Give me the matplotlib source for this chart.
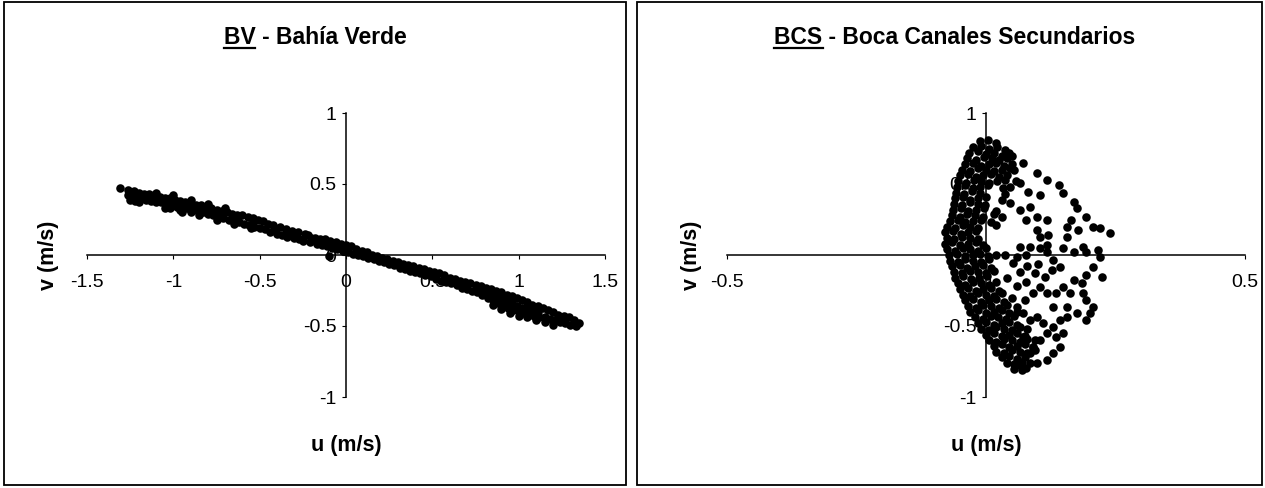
import numpy as np
import matplotlib
matplotlib.use('Agg')
import matplotlib.pyplot as plt
from matplotlib.patches import Rectangle
from matplotlib.lines import Line2D
from matplotlib.ticker import FuncFormatter

plt.rcParams['font.family'] = ['Liberation Sans', 'DejaVu Sans']

# BV - Bahia Verde: (u, v)
bv_pts = [
    (-1.31, 0.47),
    (-1.26, 0.46), (-1.26, 0.42), (-1.25, 0.39), (-1.23, 0.45), (-1.23, 0.41), (-1.22, 0.38),
    (-1.20, 0.44), (-1.19, 0.40), (-1.20, 0.37), (-1.17, 0.43), (-1.16, 0.39),
    (-1.14, 0.43), (-1.13, 0.38), (-1.14, 0.40), (-1.11, 0.42), (-1.10, 0.37), (-1.10, 0.44),
    (-1.08, 0.41), (-1.07, 0.37), (-1.08, 0.39), (-1.05, 0.40), (-1.04, 0.35), (-1.05, 0.33),
    (-1.02, 0.40), (-1.01, 0.36), (-1.02, 0.33), (-0.99, 0.39), (-0.98, 0.34), (-1.00, 0.42),
    (-0.96, 0.38), (-0.95, 0.35), (-0.96, 0.32), (-0.93, 0.37), (-0.92, 0.33), (-0.95, 0.30),
    (-0.90, 0.36), (-0.89, 0.32), (-0.90, 0.30), (-0.87, 0.35), (-0.86, 0.31), (-0.90, 0.39),
    (-0.84, 0.35), (-0.83, 0.30), (-0.81, 0.34), (-0.80, 0.29), (-0.81, 0.31), (-0.85, 0.28),
    (-0.78, 0.33), (-0.77, 0.28), (-0.75, 0.32), (-0.74, 0.27), (-0.80, 0.36), (-0.75, 0.25),
    (-0.72, 0.31), (-0.71, 0.26), (-0.72, 0.28), (-0.69, 0.30), (-0.68, 0.25), (-0.70, 0.33),
    (-0.66, 0.29), (-0.65, 0.24), (-0.63, 0.28), (-0.62, 0.23), (-0.63, 0.25), (-0.65, 0.22),
    (-0.60, 0.28), (-0.59, 0.22), (-0.57, 0.27), (-0.56, 0.21), (-0.55, 0.19),
    (-0.54, 0.26), (-0.53, 0.20), (-0.54, 0.23), (-0.51, 0.25), (-0.50, 0.19),
    (-0.48, 0.24), (-0.47, 0.18), (-0.45, 0.22), (-0.44, 0.16),
    (-0.42, 0.21), (-0.41, 0.17), (-0.40, 0.15), (-0.38, 0.20), (-0.37, 0.14),
    (-0.35, 0.18), (-0.34, 0.13), (-0.33, 0.16), (-0.31, 0.17), (-0.30, 0.12),
    (-0.28, 0.16), (-0.27, 0.11), (-0.24, 0.15), (-0.25, 0.10),
    (-0.22, 0.14), (-0.21, 0.09), (-0.20, 0.12), (-0.18, 0.12), (-0.17, 0.08),
    (-0.15, 0.11), (-0.14, 0.07), (-0.12, 0.11), (-0.11, 0.06), (-0.10, -0.01),
    (-0.09, 0.10), (-0.08, 0.05), (-0.06, 0.09), (-0.05, 0.04),
    (-0.03, 0.08), (-0.02, 0.03), (-0.03, 0.05), (0.00, 0.07), (0.01, 0.02), (0.00, 0.04),
    (0.03, 0.06), (0.04, 0.01), (0.06, 0.04), (0.07, 0.00), (0.09, 0.03), (0.10, -0.01),
    (0.12, 0.02), (0.13, -0.02), (0.15, 0.00), (0.16, -0.03), (0.18, -0.01), (0.19, -0.04),
    (0.21, -0.02), (0.22, -0.05), (0.24, -0.03), (0.25, -0.06), (0.27, -0.04), (0.28, -0.07),
    (0.30, -0.05), (0.31, -0.09), (0.33, -0.06), (0.34, -0.10), (0.36, -0.07), (0.37, -0.11),
    (0.39, -0.08), (0.40, -0.12), (0.42, -0.09), (0.43, -0.13), (0.45, -0.10), (0.46, -0.14),
    (0.48, -0.11), (0.49, -0.15), (0.51, -0.12), (0.52, -0.17), (0.54, -0.13), (0.55, -0.18),
    (0.57, -0.14), (0.58, -0.19), (0.60, -0.16), (0.61, -0.20), (0.63, -0.17), (0.64, -0.21),
    (0.66, -0.18), (0.67, -0.23), (0.69, -0.19), (0.70, -0.24), (0.69, -0.22),
    (0.72, -0.20), (0.73, -0.25), (0.75, -0.21), (0.76, -0.26), (0.75, -0.24),
    (0.78, -0.22), (0.79, -0.28), (0.78, -0.25), (0.81, -0.23), (0.82, -0.30), (0.81, -0.27),
    (0.84, -0.24), (0.85, -0.32), (0.84, -0.28), (0.87, -0.25), (0.88, -0.34), (0.87, -0.30),
    (0.85, -0.35), (0.90, -0.38), (0.95, -0.41),
    (0.90, -0.26), (0.91, -0.35), (0.90, -0.31), (0.93, -0.28), (0.94, -0.37), (0.93, -0.33),
    (0.96, -0.29), (0.97, -0.39), (0.96, -0.34), (0.99, -0.30), (1.00, -0.40), (0.99, -0.36),
    (1.00, -0.43), (1.05, -0.44), (1.10, -0.46), (1.15, -0.47), (1.20, -0.49),
    (1.02, -0.32), (1.03, -0.41), (1.02, -0.37), (1.05, -0.33), (1.06, -0.42), (1.05, -0.38),
    (1.08, -0.35), (1.09, -0.43), (1.08, -0.39), (1.11, -0.36), (1.12, -0.44), (1.11, -0.40),
    (1.14, -0.37), (1.15, -0.44), (1.17, -0.39), (1.18, -0.45), (1.20, -0.40), (1.21, -0.46),
    (1.23, -0.42), (1.24, -0.47), (1.26, -0.43), (1.27, -0.48), (1.29, -0.44), (1.30, -0.49),
    (1.32, -0.46), (1.33, -0.50), (1.35, -0.48),
]

# BCS - Boca Canales Secundarios: dense loop on the left, scattered points to the right
bcs_pts = [
    (-0.012, 0.80), (0.004, 0.81), (0.020, 0.79),
    (-0.026, 0.76), (-0.010, 0.77), (0.006, 0.75), (0.022, 0.76), (0.036, 0.74),
    (-0.032, 0.72), (-0.016, 0.73), (0.000, 0.71), (0.016, 0.72), (0.030, 0.70), (0.045, 0.72),
    (-0.036, 0.68), (-0.020, 0.67), (-0.004, 0.69), (0.011, 0.68), (0.026, 0.67), (0.041, 0.68),
    (-0.040, 0.64), (-0.025, 0.65), (-0.010, 0.63), (0.005, 0.64), (0.020, 0.65), (0.035, 0.63), (0.050, 0.64),
    (-0.046, 0.60), (-0.030, 0.59), (-0.015, 0.61), (0.000, 0.60), (0.015, 0.59), (0.030, 0.60), (0.046, 0.61),
    (-0.050, 0.56), (-0.035, 0.57), (-0.020, 0.55), (-0.005, 0.56), (0.010, 0.57), (0.025, 0.55), (0.040, 0.56),
    (-0.054, 0.52), (-0.039, 0.51), (-0.024, 0.53), (-0.009, 0.52), (0.006, 0.51), (0.021, 0.52), (0.036, 0.53),
    (-0.056, 0.48), (-0.041, 0.49), (-0.026, 0.47), (-0.011, 0.48), (0.004, 0.49), (0.032, 0.47), (0.046, 0.48),
    (-0.057, 0.44), (-0.042, 0.43), (-0.027, 0.45), (-0.012, 0.44), (0.036, 0.43),
    (-0.060, 0.40), (-0.045, 0.41), (-0.030, 0.39), (-0.015, 0.40), (0.000, 0.41), (0.030, 0.39),
    (-0.061, 0.36), (-0.046, 0.35), (-0.031, 0.37), (-0.016, 0.36), (-0.001, 0.35),
    (-0.064, 0.32), (-0.049, 0.33), (-0.034, 0.31), (-0.019, 0.32), (-0.004, 0.33), (0.020, 0.31),
    (-0.066, 0.28), (-0.051, 0.27), (-0.036, 0.29), (-0.021, 0.28), (-0.006, 0.27), (0.016, 0.29), (0.030, 0.27),
    (-0.070, 0.24), (-0.055, 0.25), (-0.040, 0.23), (-0.025, 0.24), (-0.010, 0.25), (0.010, 0.23),
    (-0.075, 0.20), (-0.060, 0.19), (-0.045, 0.21), (-0.030, 0.20), (-0.015, 0.19), (0.020, 0.21),
    (-0.079, 0.16), (-0.064, 0.17), (-0.049, 0.15), (-0.034, 0.16), (-0.019, 0.17),
    (-0.076, 0.12), (-0.061, 0.11), (-0.046, 0.13), (-0.031, 0.12), (-0.016, 0.11),
    (-0.080, 0.08), (-0.065, 0.09), (-0.050, 0.07), (-0.035, 0.08), (-0.020, 0.09), (-0.005, 0.07),
    (-0.075, 0.04), (-0.060, 0.03), (-0.045, 0.05), (-0.030, 0.04), (-0.015, 0.03), (0.000, 0.05),
    (-0.071, 0.00), (-0.056, 0.01), (-0.041, -0.01), (-0.026, 0.00), (-0.011, 0.01), (0.004, -0.01), (0.020, 0.00),
    (-0.070, -0.04), (-0.055, -0.05), (-0.040, -0.03), (-0.025, -0.04), (-0.010, -0.05), (0.005, -0.03),
    (-0.066, -0.08), (-0.051, -0.07), (-0.036, -0.09), (-0.021, -0.08), (-0.006, -0.07), (0.010, -0.09),
    (-0.061, -0.12), (-0.046, -0.13), (-0.031, -0.11), (-0.016, -0.12), (0.000, -0.13), (0.015, -0.11),
    (-0.059, -0.16), (-0.044, -0.15), (-0.029, -0.17), (-0.014, -0.16), (0.001, -0.15),
    (-0.055, -0.20), (-0.040, -0.21), (-0.025, -0.19), (-0.010, -0.20), (0.005, -0.21), (0.020, -0.19),
    (-0.050, -0.24), (-0.035, -0.23), (-0.020, -0.25), (-0.005, -0.24), (0.010, -0.23), (0.025, -0.25),
    (-0.045, -0.28), (-0.030, -0.29), (-0.015, -0.27), (0.000, -0.28), (0.015, -0.29), (0.030, -0.27),
    (-0.040, -0.32), (-0.025, -0.31), (-0.010, -0.33), (0.005, -0.32), (0.020, -0.31), (0.035, -0.33),
    (-0.035, -0.36), (-0.020, -0.37), (-0.005, -0.35), (0.010, -0.36), (0.025, -0.37), (0.040, -0.35),
    (-0.030, -0.40), (-0.015, -0.39), (0.000, -0.41), (0.015, -0.40), (0.030, -0.39), (0.045, -0.41), (0.060, -0.40),
    (-0.021, -0.44), (-0.006, -0.45), (0.009, -0.43), (0.024, -0.44), (0.039, -0.45), (0.054, -0.43),
    (-0.015, -0.48), (0.000, -0.47), (0.015, -0.49), (0.030, -0.48), (0.045, -0.47), (0.060, -0.49),
    (-0.010, -0.52), (0.005, -0.53), (0.020, -0.51), (0.035, -0.52), (0.050, -0.53), (0.065, -0.51), (0.080, -0.52),
    (0.000, -0.56), (0.015, -0.55), (0.030, -0.57), (0.045, -0.56), (0.060, -0.55), (0.075, -0.57),
    (0.005, -0.60), (0.020, -0.61), (0.035, -0.59), (0.050, -0.60), (0.065, -0.61), (0.080, -0.59), (0.095, -0.60),
    (0.015, -0.64), (0.030, -0.63), (0.045, -0.65), (0.060, -0.64), (0.075, -0.63), (0.090, -0.65),
    (0.020, -0.68), (0.035, -0.69), (0.050, -0.67), (0.065, -0.68), (0.080, -0.69), (0.095, -0.67),
    (0.030, -0.72), (0.045, -0.71), (0.060, -0.73), (0.075, -0.72),
    (0.040, -0.76), (0.055, -0.77), (0.070, -0.75), (0.085, -0.76),
    (0.055, -0.80), (0.070, -0.81),
    (0.050, 0.70), (0.055, 0.60), (0.058, 0.52),
    # scattered right-hand points
    (0.072, 0.645), (0.098, 0.575), (0.066, 0.505), (0.117, 0.528), (0.082, 0.446), (0.104, 0.423),
    (0.140, 0.493), (0.149, 0.434), (0.046, 0.364), (0.066, 0.317), (0.085, 0.340), (0.098, 0.270),
    (0.078, 0.246), (0.169, 0.376), (0.175, 0.329), (0.194, 0.270), (0.207, 0.200), (0.220, 0.188),
    (0.239, 0.153), (0.165, 0.246), (0.156, 0.200), (0.117, 0.246), (0.098, 0.176), (0.104, 0.129),
    (0.120, 0.140), (0.066, 0.059), (0.085, 0.059), (0.104, 0.047), (0.117, 0.070), (0.149, 0.047),
    (0.169, 0.023), (0.188, 0.059), (0.194, 0.023), (0.217, 0.035), (0.220, -0.012), (0.207, -0.082),
    (0.223, -0.153), (0.194, -0.141), (0.185, -0.200), (0.169, -0.176), (0.149, -0.223), (0.136, -0.270),
    (0.162, -0.270), (0.188, -0.270), (0.194, -0.317), (0.207, -0.364), (0.200, -0.410), (0.194, -0.458),
    (0.175, -0.410), (0.156, -0.364), (0.143, -0.458), (0.130, -0.364), (0.114, -0.153), (0.095, -0.129),
    (0.104, -0.223), (0.091, -0.270), (0.117, -0.270), (0.078, -0.188), (0.066, -0.117), (0.053, -0.059),
    (0.037, 0.000), (0.059, -0.012), (0.078, 0.000), (0.130, -0.035), (0.143, -0.082), (0.127, -0.106),
    (0.117, 0.023), (0.156, 0.129), (0.178, 0.176),
    (0.060, -0.220), (0.050, -0.300), (0.075, -0.320), (0.040, -0.160), (0.080, -0.080), (0.100, -0.060),
    (0.059, -0.364), (0.072, -0.410), (0.085, -0.458), (0.098, -0.434), (0.111, -0.481), (0.130, -0.505),
    (0.117, -0.552), (0.136, -0.575), (0.149, -0.552), (0.143, -0.646), (0.130, -0.692), (0.117, -0.739),
    (0.098, -0.763), (0.078, -0.798), (0.066, -0.775), (0.091, -0.646), (0.104, -0.599), (0.072, -0.575),
    (0.085, -0.692), (0.156, -0.434),
]

y_ticks = [-1, -0.5, 0, 0.5, 1]
bv_xticks = [-1.5, -1, -0.5, 0, 0.5, 1, 1.5]
bcs_xticks = [-0.5, 0, 0.5]

W, H = 1265, 488
fig = plt.figure(figsize=(W / 100, H / 100), dpi=100)
fig.patch.set_facecolor('white')

# panel frames (px)
for x0, x1 in [(4, 626), (637, 1262)]:
    fig.add_artist(Rectangle((x0 / W, 3 / H), (x1 - x0) / W, 483 / H, transform=fig.transFigure,
                             fill=False, edgecolor='black', linewidth=1.3))

fmt = FuncFormatter(lambda x, p: '%g' % x)


def setup(ax, pts, xlim, xticks):
    d = np.array(pts)
    ax.scatter(d[:, 0], d[:, 1], s=38, c='black', marker='o', linewidths=0, zorder=5, clip_on=False)
    ax.set_xlim(xlim)
    ax.set_ylim(-1, 1)
    ax.patch.set_visible(False)
    for s in ['top', 'right']:
        ax.spines[s].set_visible(False)
    ax.spines['left'].set_position(('data', 0))
    ax.spines['bottom'].set_position(('data', 0))
    for s in ['left', 'bottom']:
        ax.spines[s].set_linewidth(1.1)
    ax.set_xticks(xticks)
    ax.set_yticks(y_ticks)
    ax.xaxis.set_major_formatter(fmt)
    ax.yaxis.set_major_formatter(fmt)
    ax.tick_params(axis='x', direction='out', length=3, width=0.8, pad=11, labelsize=14)
    ax.tick_params(axis='y', direction='out', length=3, width=0.8, pad=4, labelsize=14)


ax1 = fig.add_axes([87 / W, 91 / H, 518 / W, 284 / H])
setup(ax1, bv_pts, (-1.5, 1.5), bv_xticks)
ax2 = fig.add_axes([727 / W, 91 / H, 518 / W, 284 / H])
setup(ax2, bcs_pts, (-0.5, 0.5), bcs_xticks)

lab = dict(fontsize=15.5, fontweight='bold', ha='center', va='center')
fig.text(346 / W, 1 - 445 / H, 'u (m/s)', **lab)
fig.text(48 / W, 1 - 255 / H, 'v (m/s)', rotation=90, **lab)
fig.text(986 / W, 1 - 445 / H, 'u (m/s)', **lab)
fig.text(692 / W, 1 - 255 / H, 'v (m/s)', rotation=90, **lab)


def title(xc, head, rest):
    t = fig.text(xc / W, 1 - 38 / H, head + rest, fontsize=16.5, fontweight='bold', ha='center', va='center')
    r = fig.canvas.get_renderer()
    bb = t.get_window_extent(r)
    tmp = fig.text(0, 0, head, fontsize=16.5, fontweight='bold')
    w = tmp.get_window_extent(r).width
    tmp.remove()
    yl = bb.y0 + 1.5
    fig.add_artist(Line2D([bb.x0 / W, (bb.x0 + w) / W], [yl / H, yl / H], transform=fig.transFigure,
                          color='black', linewidth=1.6))


title(315, 'BV', ' - Bahía Verde')
title(955, 'BCS', ' - Boca Canales Secundarios')

fig.savefig('out.png', dpi=100, facecolor='white')
